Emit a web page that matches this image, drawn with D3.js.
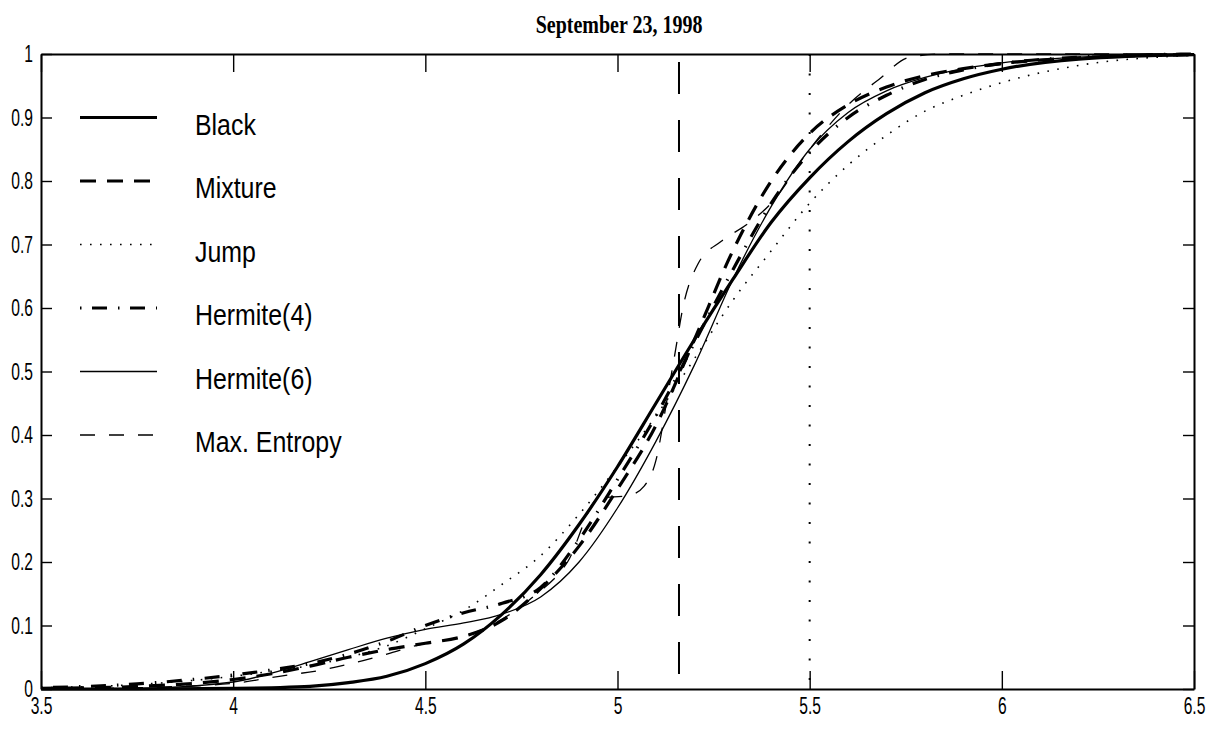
<!DOCTYPE html>
<html><head><meta charset="utf-8">
<script src="https://cdn.jsdelivr.net/npm/d3@7"></script>
<style>body{margin:0;background:#fff} svg{display:block;background:#fff}</style>
</head><body><svg id="c" width="1214" height="735"></svg>
<script>
// ---------- data ----------
const titleText = "September 23, 1998";
const xTicks = [3.5, 4, 4.5, 5, 5.5, 6, 6.5];
const xTickLabels = ["3.5", "4", "4.5", "5", "5.5", "6", "6.5"];
const yTicks = [0, 0.1, 0.2, 0.3, 0.4, 0.5, 0.6, 0.7, 0.8, 0.9, 1];
const yTickLabels = ["0", "0.1", "0.2", "0.3", "0.4", "0.5", "0.6", "0.7", "0.8", "0.9", "1"];

const xs = [3.5, 3.75, 4.0, 4.1, 4.2, 4.3, 4.4, 4.5, 4.6, 4.7, 4.8, 4.9, 5.0, 5.1, 5.2, 5.3, 5.4, 5.5, 5.6, 5.7, 5.8, 5.9, 6.0, 6.2, 6.5];
const blackY    = [0, 0, 0.001, 0.002, 0.004, 0.010, 0.020, 0.040, 0.071, 0.118, 0.180, 0.259, 0.350, 0.450, 0.550, 0.645, 0.735, 0.805, 0.862, 0.906, 0.939, 0.961, 0.976, 0.992, 0.999];
const mixtureY  = [0.001, 0.004, 0.015, 0.024, 0.036, 0.050, 0.062, 0.072, 0.083, 0.108, 0.158, 0.225, 0.315, 0.415, 0.550, 0.690, 0.800, 0.875, 0.920, 0.948, 0.966, 0.977, 0.985, 0.994, 0.999];
const jumpY     = [0.002, 0.007, 0.020, 0.028, 0.037, 0.050, 0.068, 0.095, 0.124, 0.165, 0.210, 0.275, 0.350, 0.430, 0.520, 0.612, 0.690, 0.765, 0.825, 0.872, 0.910, 0.935, 0.955, 0.982, 0.998];
const hermite4Y = [0.002, 0.008, 0.022, 0.030, 0.040, 0.055, 0.075, 0.100, 0.120, 0.135, 0.160, 0.235, 0.330, 0.430, 0.545, 0.660, 0.765, 0.845, 0.900, 0.935, 0.960, 0.975, 0.985, 0.995, 1.0];
const hermite6Y = [0.000, 0.001, 0.011, 0.025, 0.043, 0.062, 0.080, 0.094, 0.104, 0.118, 0.145, 0.200, 0.285, 0.390, 0.510, 0.645, 0.760, 0.850, 0.908, 0.942, 0.963, 0.977, 0.986, 0.995, 1.0];
const maxEntX   = [3.5, 3.75, 4.0, 4.12, 4.24, 4.32, 4.4, 4.5, 4.6, 4.7, 4.78, 4.87, 4.95, 5.03, 5.07, 5.1, 5.13, 5.15, 5.17, 5.21, 5.27, 5.34, 5.4, 5.5, 5.6, 5.68, 5.76, 5.85, 6.0, 6.5];
const maxEntY   = [0.000, 0.002, 0.009, 0.020, 0.031, 0.042, 0.055, 0.072, 0.083, 0.110, 0.145, 0.200, 0.300, 0.305, 0.320, 0.360, 0.460, 0.530, 0.600, 0.670, 0.705, 0.733, 0.765, 0.850, 0.920, 0.960, 0.995, 1.0, 1.0, 1.0];
const seriesNames = ["Black", "Mixture", "Jump", "Hermite(4)", "Hermite(6)", "Max. Entropy"];
const forwardX = 5.16;
const strikeX = 5.5;

// ---------- styles ----------
const styles = {
  "Black":        {w: 3.2, dash: null},
  "Mixture":      {w: 3.2, dash: "16,11"},
  "Jump":         {w: 1.6, dash: "1.6,8.4"},
  "Hermite(4)":   {w: 3.2, dash: "1.5,10.5,15,11"},
  "Hermite(6)":   {w: 1.3, dash: null},
  "Max. Entropy": {w: 1.3, dash: "15,14"}
};

const svg = d3.select("#c");
const L = 41, R = 1194, T = 54, B = 689;
const x = d3.scaleLinear().domain([3.5, 6.5]).range([L, R]);
const y = d3.scaleLinear().domain([0, 1]).range([B, T]);

const series = [
  {name: "Black", xv: xs, yv: blackY},
  {name: "Mixture", xv: xs, yv: mixtureY},
  {name: "Jump", xv: xs, yv: jumpY},
  {name: "Hermite(4)", xv: xs, yv: hermite4Y},
  {name: "Hermite(6)", xv: xs, yv: hermite6Y},
  {name: "Max. Entropy", xv: maxEntX, yv: maxEntY}
];

svg.append("defs").append("clipPath").attr("id", "clip")
  .append("rect").attr("x", L).attr("y", T - 2).attr("width", R - L).attr("height", B - T + 4);

// vertical reference lines
svg.append("line").attr("x1", x(forwardX)).attr("x2", x(forwardX)).attr("y1", y(1) + 8).attr("y2", y(0))
  .attr("stroke", "#000").attr("stroke-width", 2).attr("stroke-dasharray", "32,26");
svg.append("line").attr("x1", x(strikeX)).attr("x2", x(strikeX)).attr("y1", y(1)).attr("y2", y(0))
  .attr("stroke", "#000").attr("stroke-width", 2).attr("stroke-dasharray", "2,17.5");

const line = d3.line().x(d => x(d[0])).y(d => y(d[1])).curve(d3.curveMonotoneX);
const g = svg.append("g").attr("clip-path", "url(#clip)");
series.forEach(s => {
  const st = styles[s.name];
  g.append("path").datum(s.xv.map((v, i) => [v, s.yv[i]]))
    .attr("d", line).attr("fill", "none").attr("stroke", "#000")
    .attr("stroke-width", st.w).attr("stroke-dasharray", st.dash);
});

// axes
const fmtX = (d) => xTickLabels[xTicks.indexOf(d)];
const fmtY = (d) => yTickLabels[yTicks.indexOf(d)];
const tickFont = "'Liberation Sans', Arial, Helvetica, sans-serif";
const tsx = 0.65;

const axB = svg.append("g").attr("transform", `translate(0,${B})`)
  .call(d3.axisBottom(x).tickValues(xTicks).tickFormat(fmtX).tickSizeInner(-18).tickSizeOuter(0).tickPadding(8));
const axT = svg.append("g").attr("transform", `translate(0,${T})`)
  .call(d3.axisTop(x).tickValues(xTicks).tickFormat("").tickSizeInner(-18).tickSizeOuter(0));
const axL = svg.append("g").attr("transform", `translate(${L},0)`)
  .call(d3.axisLeft(y).tickValues(yTicks).tickFormat(fmtY).tickSizeInner(-11).tickSizeOuter(0).tickPadding(8));
const axR = svg.append("g").attr("transform", `translate(${R},0)`)
  .call(d3.axisRight(y).tickValues(yTicks).tickFormat("").tickSizeInner(-11).tickSizeOuter(0));

[axB, axT, axL, axR].forEach(a => {
  a.select(".domain").attr("stroke", "#000").attr("stroke-width", 2);
  a.selectAll(".tick line").attr("stroke", "#000").attr("stroke-width", 1.4);
  a.selectAll("text").attr("font-family", tickFont).attr("font-size", 24).attr("fill", "#000");
});
axB.selectAll(".tick text").attr("transform", `scale(${tsx},1)`);
axL.selectAll(".tick text").attr("x", -8 / tsx).attr("transform", `scale(${tsx},1)`);

// title
svg.append("text").attr("x", 0).attr("y", 0)
  .attr("transform", `translate(619,33) scale(0.8,1)`)
  .attr("text-anchor", "middle").attr("font-family", "'Liberation Serif', 'Times New Roman', serif")
  .attr("font-weight", "bold").attr("font-size", 25).text(titleText);

// legend
const legRow0 = y(0.9), legStep = y(0.8) - y(0.9);
seriesNames.forEach((n, i) => {
  const ry = legRow0 + i * legStep;
  const st = styles[n];
  svg.append("line").attr("x1", 80).attr("x2", 157).attr("y1", ry).attr("y2", ry)
    .attr("stroke", "#000").attr("stroke-width", st.w).attr("stroke-dasharray", st.dash);
  svg.append("text").attr("transform", `translate(195,${ry + 17}) scale(0.83,1)`)
    .attr("font-family", tickFont).attr("font-size", 30).attr("fill", "#000").text(n);
});
</script></body></html>
